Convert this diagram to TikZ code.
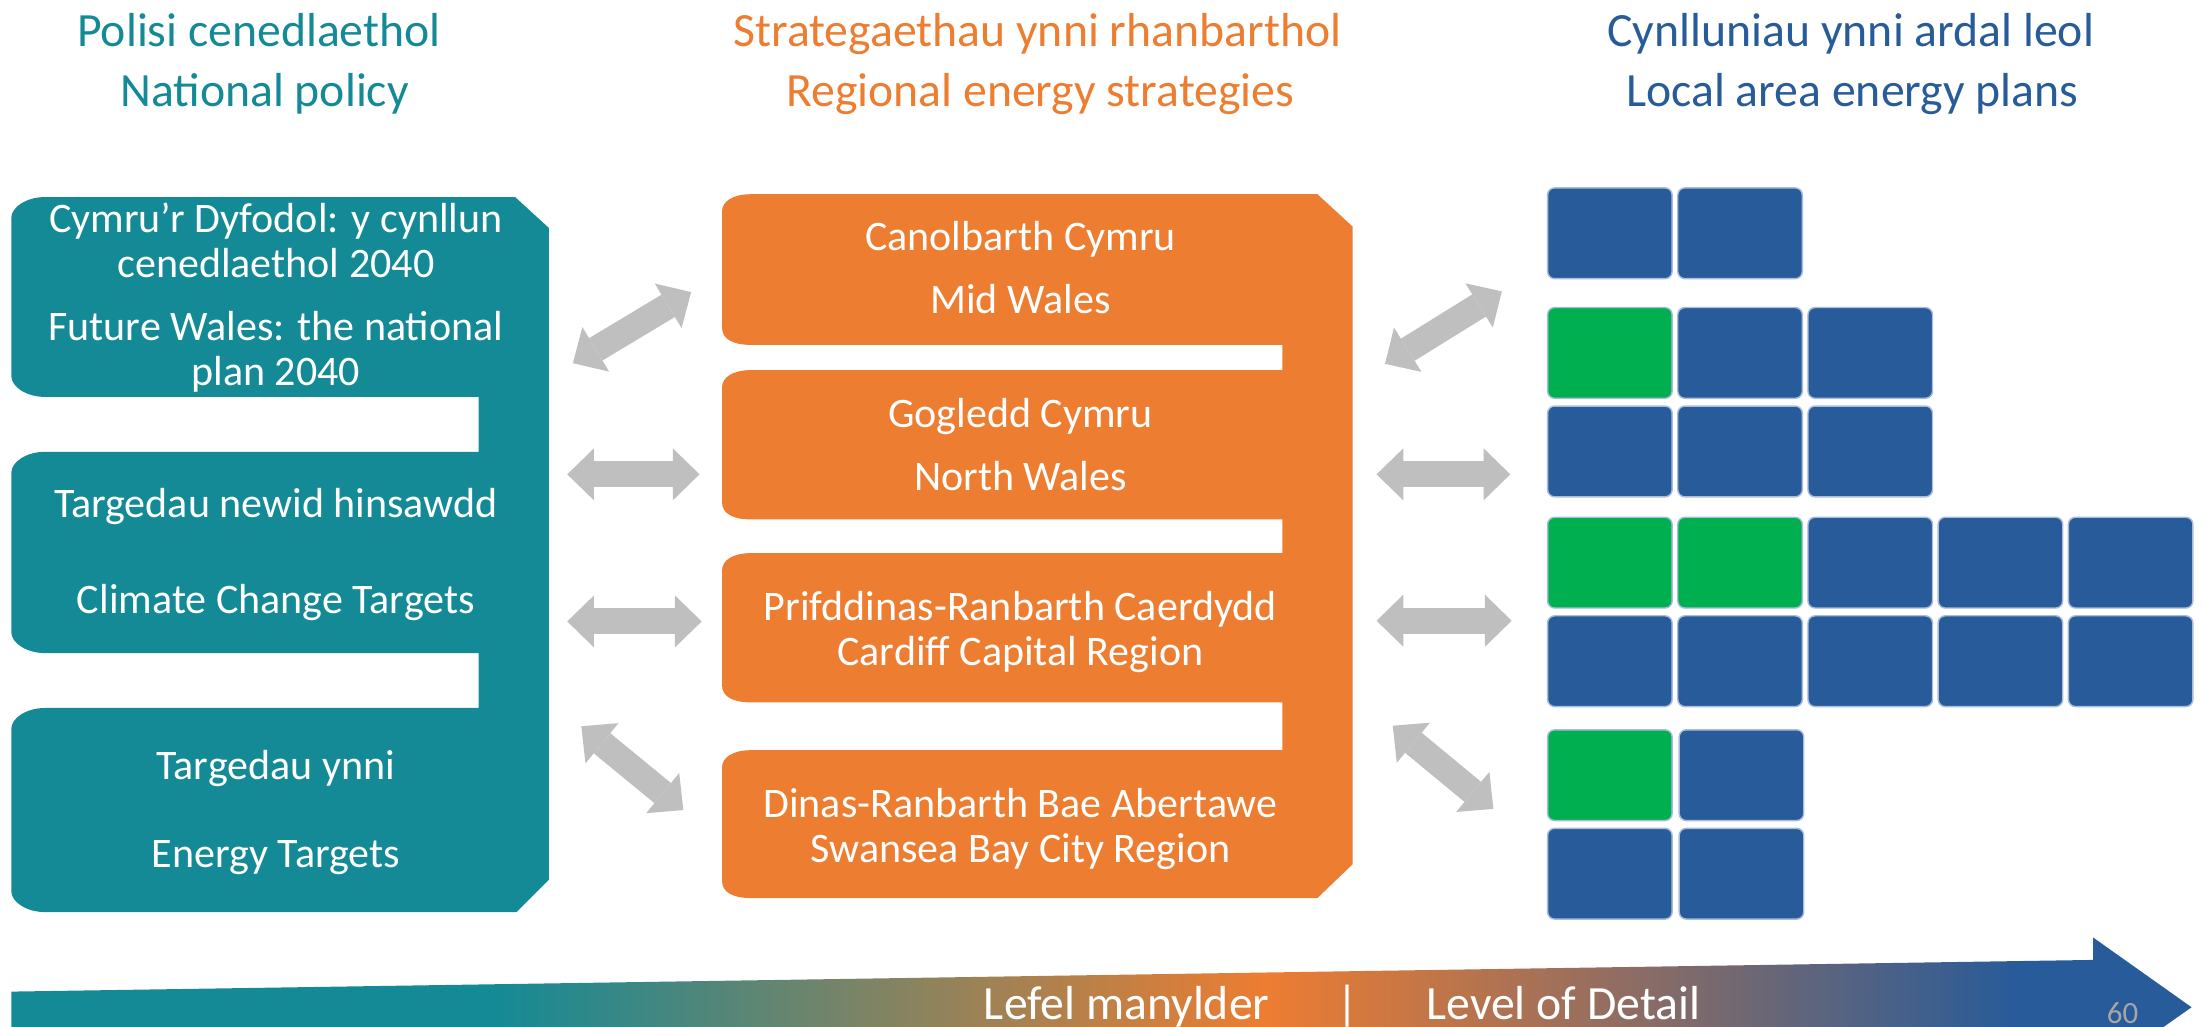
\documentclass[tikz,border=0pt]{standalone}
\usepackage{fontspec}
\setmainfont{Carlito}
\usetikzlibrary{arrows.meta}
\definecolor{tealc}{HTML}{138A96}
\definecolor{orangec}{HTML}{ED7D31}
\definecolor{bluec}{HTML}{285B99}
\definecolor{greenc}{HTML}{00B050}
\definecolor{greyc}{HTML}{BFBFBF}
\definecolor{edgec}{HTML}{A9BCDB}
\definecolor{numc}{HTML}{A6A6A6}
\pgfdeclarehorizontalshading{lod}{100bp}{color(0bp)=(tealc); color(36bp)=(tealc); color(53.8bp)=(orangec); color(71bp)=(bluec); color(100bp)=(bluec)}
\begin{document}
\begin{tikzpicture}[x=0.02cm, y=-0.02cm,
  hdr/.style={font=\fontsize{19.3}{23}\selectfont, anchor=base, inner sep=0pt},
  boxtxt/.style={font=\fontsize{17}{20}\selectfont, text=white, anchor=base, inner sep=0pt},
  blk/.style={anchor=north west, minimum width=1.77cm, minimum height=1.29cm, inner sep=0pt,
     rounded corners=0.1cm, draw=edgec, line width=0.02cm},
  garrow/.style={draw=greyc, line width=0.37cm,
     {Triangle[length=0.38cm,width=0.74cm,line width=0pt]}-{Triangle[length=0.38cm,width=0.74cm,line width=0pt]}}
]
\useasboundingbox (0,0) rectangle (1568,729);

% headers
\node[hdr, text=tealc] (h1a) at (184,33) {Polisi cenedlaethol};
\node[hdr, text=tealc] (h1b) at (188,76) {National policy};
\node[hdr, text=orangec] (h2a) at (737,33) {Strategaethau ynni rhanbarthol};
\node[hdr, text=orangec] (h2b) at (739,76) {Regional energy strategies};
\node[hdr, text=bluec] (h3a) at (1315,33) {Cynlluniau ynni ardal leol};
\node[hdr, text=bluec] (h3b) at (1316,76) {Local area energy plans};

% teal national policy shape
\fill[tealc] (32,140) -- (366,140) -- (390,162) -- (390,625) -- (367,648) -- (32,648)
  .. controls (19,648) and (8,641) .. (8,633) -- (8,518)
  .. controls (8,510) and (19,503) .. (32,503) -- (340,503) -- (340,464) -- (32,464)
  .. controls (19,464) and (8,457) .. (8,449) -- (8,336)
  .. controls (8,328) and (19,321) .. (32,321) -- (340,321) -- (340,282) -- (32,282)
  .. controls (19,282) and (8,275) .. (8,267) -- (8,155)
  .. controls (8,147) and (19,140) .. (32,140) -- cycle;

\node[boxtxt] (t1a) at (196,165) {Cymru’r Dyfodol: y cynllun};
\node[boxtxt] (t1b) at (196,197) {cenedlaethol 2040};
\node[boxtxt] (t1c) at (196,242) {Future Wales: the national};
\node[boxtxt] (t1d) at (196,274) {plan 2040};
\node[boxtxt] (t2a) at (196,368) {Targedau newid hinsawdd};
\node[boxtxt] (t2b) at (196,436) {Climate Change Targets};
\node[boxtxt] (t3a) at (196,554) {Targedau ynni};
\node[boxtxt] (t3b) at (196,616) {Energy Targets};

% orange regional shape
\fill[orangec] (533,138) -- (936,138) -- (961,161) -- (961,614) -- (936,638) -- (533,638)
  .. controls (521,638) and (513,634) .. (513,626) -- (513,545)
  .. controls (513,538) and (521,533) .. (533,533) -- (911,533) -- (911,499) -- (533,499)
  .. controls (521,499) and (513,495) .. (513,487) -- (513,405)
  .. controls (513,398) and (521,393) .. (533,393) -- (911,393) -- (911,369) -- (533,369)
  .. controls (521,369) and (513,365) .. (513,357) -- (513,275)
  .. controls (513,268) and (521,263) .. (533,263) -- (911,263) -- (911,245) -- (533,245)
  .. controls (521,245) and (513,241) .. (513,233) -- (513,150)
  .. controls (513,143) and (521,138) .. (533,138) -- cycle;

\node[boxtxt] (o1a) at (725,178) {Canolbarth Cymru};
\node[boxtxt] (o1b) at (725,223) {Mid Wales};
\node[boxtxt] (o2a) at (725,304) {Gogledd Cymru};
\node[boxtxt] (o2b) at (725,348.5) {North Wales};
\node[boxtxt] (o3a) at (725,441) {Prifddinas-Ranbarth Caerdydd};
\node[boxtxt] (o3b) at (725,473) {Cardiff Capital Region};
\node[boxtxt] (o4a) at (725,580.5) {Dinas-Ranbarth Bae Abertawe};
\node[boxtxt] (o4b) at (725,613) {Swansea Bay City Region};

% local area blocks
\foreach \c/\col in {1/bluec,2/bluec}
  \node[blk, fill=\col] (b1-\c) at ({1099+92.5*(\c-1)},133) {};
\foreach \c/\col in {1/greenc,2/bluec,3/bluec}
  \node[blk, fill=\col] (b2-\c) at ({1099+92.5*(\c-1)},218) {};
\foreach \c/\col in {1/bluec,2/bluec,3/bluec}
  \node[blk, fill=\col] (b3-\c) at ({1099+92.5*(\c-1)},288) {};
\foreach \c/\col in {1/greenc,2/greenc,3/bluec,4/bluec,5/bluec}
  \node[blk, fill=\col] (b4-\c) at ({1099+92.5*(\c-1)},367) {};
\foreach \c/\col in {1/bluec,2/bluec,3/bluec,4/bluec,5/bluec}
  \node[blk, fill=\col] (b5-\c) at ({1099+92.5*(\c-1)},437) {};
\foreach \c/\col in {1/greenc,2/bluec}
  \node[blk, fill=\col] (b6-\c) at ({1099+93.5*(\c-1)},518) {};
\foreach \c/\col in {1/bluec,2/bluec}
  \node[blk, fill=\col] (b7-\c) at ({1099+93.5*(\c-1)},588) {};

% grey double arrows
\coordinate (L1a) at (407,258);   \coordinate (L1b) at (491,207.5);
\coordinate (L2a) at (403,337);   \coordinate (L2b) at (497,337);
\coordinate (L3a) at (403,441.5); \coordinate (L3b) at (498.5,441.5);
\coordinate (L4a) at (413,516);   \coordinate (L4b) at (485.5,575.5);
\coordinate (R1a) at (984,258.5); \coordinate (R1b) at (1067,207);
\coordinate (R2a) at (978,337);   \coordinate (R2b) at (1073,337);
\coordinate (R3a) at (978,441);   \coordinate (R3b) at (1074,441);
\coordinate (R4a) at (989.5,515.6); \coordinate (R4b) at (1061,574.7);
\foreach \a in {L1,L2,L3,L4,R1,R2,R3,R4}
  \draw[garrow] (\a a) -- (\a b);

% level of detail arrow
\begin{scope}
\clip (0,0) rectangle (1568,729);
\shade[shading=lod] (8,704.5) -- (1487,682) -- (1487,666) -- (1557,715.6) -- (1487,765)
   -- (1487,760) -- (8,760) -- cycle;
\end{scope}
\node[font=\fontsize{19.3}{23}\selectfont, text=white, anchor=base, inner sep=0pt] (lod) at (953.5,724)
   {Lefel manylder\hspace{0.96cm}|\hspace{0.96cm}Level of Detail};
\node[font=\fontsize{12.5}{15}\selectfont, text=numc, anchor=base, inner sep=0pt] (pg) at (1508,727) {60};
\end{tikzpicture}
\end{document}
